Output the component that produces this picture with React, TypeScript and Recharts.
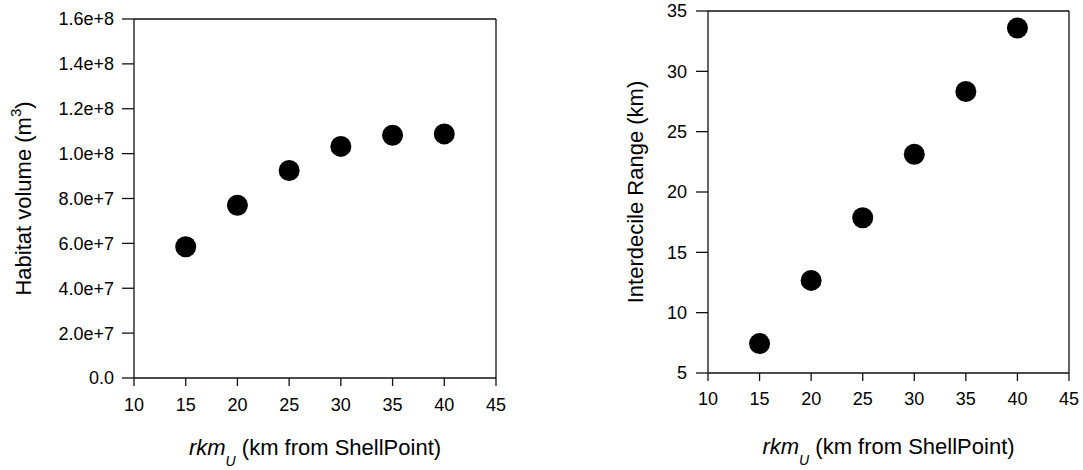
import React from "react";
import { ScatterChart, Scatter, XAxis, YAxis, ReferenceLine } from "recharts";

const rkmU = [15, 20, 25, 30, 35, 40];
const habitatVolume = [5.85e7, 7.7e7, 9.25e7, 1.032e8, 1.082e8, 1.088e8];
const interdecileRange = [7.44, 12.67, 17.87, 23.13, 28.33, 33.59];

const xTicks = [10, 15, 20, 25, 30, 35, 40, 45];
const leftYTicks = [0, 2e7, 4e7, 6e7, 8e7, 1e8, 1.2e8, 1.4e8, 1.6e8];
const leftYTickLabels = ["0.0", "2.0e+7", "4.0e+7", "6.0e+7", "8.0e+7", "1.0e+8", "1.2e+8", "1.4e+8", "1.6e+8"];
const rightYTicks = [5, 10, 15, 20, 25, 30, 35];

const leftData = rkmU.map((x, i) => ({ x, y: habitatVolume[i] }));
const rightData = rkmU.map((x, i) => ({ x, y: interdecileRange[i] }));

const FONT = "'Liberation Sans', Arial, Helvetica, sans-serif";
const AXIS = "#111";
const TICK_FS = 18;

const Dot = (p: any) => <circle cx={p.cx} cy={p.cy} r={10.5} fill="#000" />;

const XTick = (p: any) => (
  <text x={p.x} y={p.y} dy="0.71em" textAnchor="middle" fontFamily={FONT} fontSize={TICK_FS} fill="#000">
    {String(p.payload.value)}
  </text>
);

const YTick = (labels?: string[], values?: number[]) => (p: any) => {
  const v = p.payload.value;
  const s = labels && values ? labels[values.indexOf(v)] ?? String(v) : String(v);
  return (
    <text x={p.x} y={p.y} dy="0.355em" textAnchor="end" fontFamily={FONT} fontSize={TICK_FS} fill="#000">
      {s}
    </text>
  );
};

const XLabel = (baselineOffset: number) => (props: any) => {
  const vb = props.viewBox || {};
  const cx = vb.x + vb.width / 2;
  const y = vb.y + baselineOffset;
  return (
    <text x={cx} y={y} textAnchor="middle" fontFamily={FONT} fontSize={22} fill="#000">
      <tspan fontStyle="italic">rkm</tspan>
      <tspan fontStyle="italic" fontSize={14} dy={11}>U</tspan>
      <tspan dy={-11}> (km from ShellPoint)</tspan>
    </text>
  );
};

const YLabel = (offset: number, sup: boolean, text: string) => (props: any) => {
  const vb = props.viewBox || {};
  const plotLeft = vb.x + vb.width;
  const cx = plotLeft - offset;
  const cy = vb.y + vb.height / 2;
  return (
    <text
      x={cx}
      y={cy}
      transform={`rotate(-90, ${cx}, ${cy})`}
      textAnchor="middle"
      dy="0.36em"
      fontFamily={FONT}
      fontSize={22}
      fill="#000"
    >
      {sup ? (
        <>
          <tspan>{text}</tspan>
          <tspan fontSize={15} dy={-10}>3</tspan>
          <tspan dy={10}>)</tspan>
        </>
      ) : (
        text
      )}
    </text>
  );
};

export default function App() {
  return (
    <div style={{ position: "absolute", left: 0, top: 0, width: 1083, height: 470, background: "#fff" }}>
      <div style={{ position: "absolute", left: 0, top: 0 }}>
        <ScatterChart width={540} height={470} margin={{ top: 19, right: 44, bottom: 32, left: 34 }}>
          <XAxis
            type="number"
            dataKey="x"
            domain={[10, 45]}
            ticks={xTicks}
            interval={0}
            height={60}
            tickSize={8}
            tickMargin={12}
            tick={XTick}
            axisLine={{ stroke: AXIS, strokeWidth: 1.3 }}
            tickLine={{ stroke: AXIS, strokeWidth: 1.3 }}
            label={{ content: XLabel(77) }}
          />
          <YAxis
            type="number"
            dataKey="y"
            domain={[0, 1.6e8]}
            ticks={leftYTicks}
            interval={0}
            width={100}
            tickSize={12}
            tickMargin={8}
            tick={YTick(leftYTickLabels, leftYTicks)}
            axisLine={{ stroke: AXIS, strokeWidth: 1.3 }}
            tickLine={{ stroke: AXIS, strokeWidth: 1.3 }}
            label={{ content: YLabel(111, true, "Habitat volume (m") }}
          />
          <ReferenceLine y={1.6e8} stroke={AXIS} strokeWidth={1.3} />
          <ReferenceLine x={45} stroke={AXIS} strokeWidth={1.3} />
          <Scatter data={leftData} fill="#000" shape={Dot} isAnimationActive={false} />
        </ScatterChart>
      </div>
      <div style={{ position: "absolute", left: 560, top: 0 }}>
        <ScatterChart width={523} height={470} margin={{ top: 11, right: 14, bottom: 37, left: 48 }}>
          <XAxis
            type="number"
            dataKey="x"
            domain={[10, 45]}
            ticks={xTicks}
            interval={0}
            height={60}
            tickSize={8}
            tickMargin={11}
            tick={XTick}
            axisLine={{ stroke: AXIS, strokeWidth: 1.3 }}
            tickLine={{ stroke: AXIS, strokeWidth: 1.3 }}
            label={{ content: XLabel(81) }}
          />
          <YAxis
            type="number"
            dataKey="y"
            domain={[5, 35]}
            ticks={rightYTicks}
            interval={0}
            width={100}
            tickSize={12}
            tickMargin={9}
            tick={YTick()}
            axisLine={{ stroke: AXIS, strokeWidth: 1.3 }}
            tickLine={{ stroke: AXIS, strokeWidth: 1.3 }}
            label={{ content: YLabel(73, false, "Interdecile Range (km)") }}
          />
          <ReferenceLine y={35} stroke={AXIS} strokeWidth={1.3} />
          <ReferenceLine x={45} stroke={AXIS} strokeWidth={1.3} />
          <Scatter data={rightData} fill="#000" shape={Dot} isAnimationActive={false} />
        </ScatterChart>
      </div>
    </div>
  );
}
